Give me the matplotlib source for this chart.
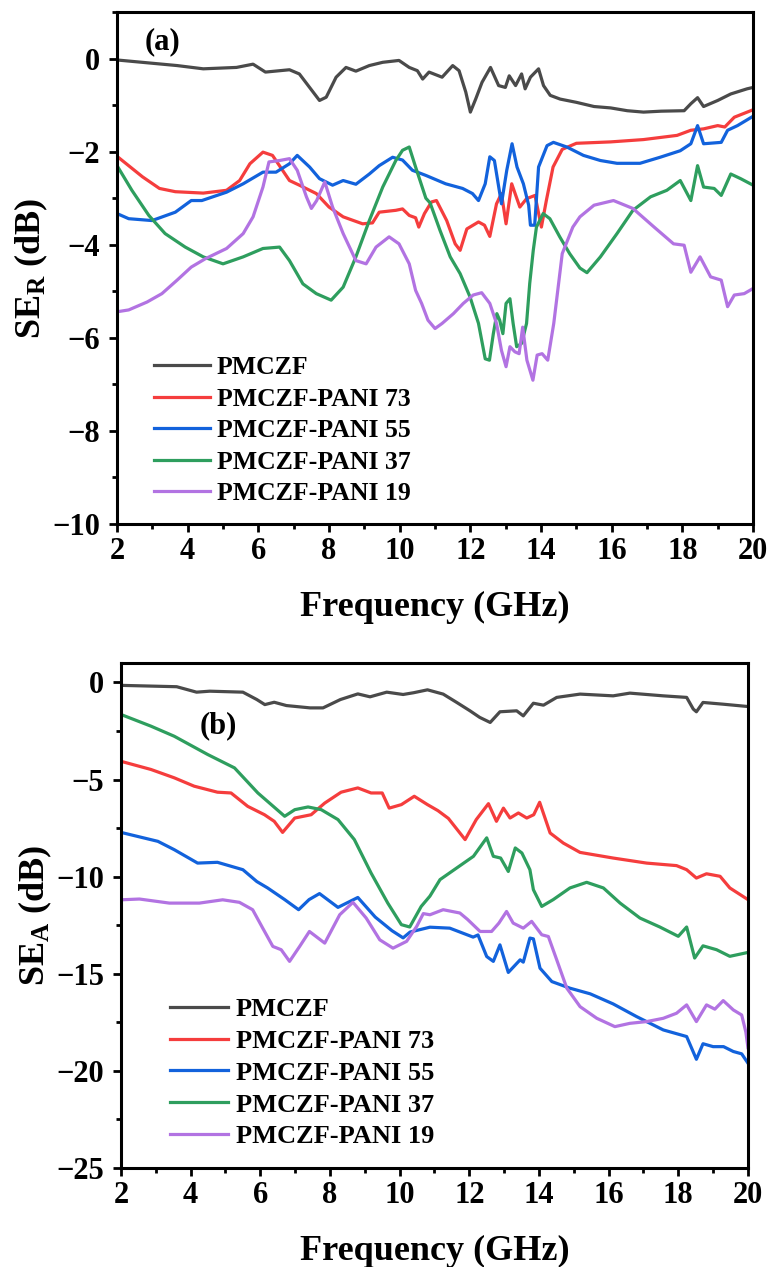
import numpy as np
import matplotlib
matplotlib.use("Agg")
import matplotlib.pyplot as plt
from matplotlib.ticker import MultipleLocator

plt.rcParams['font.family'] = ['Liberation Serif', 'DejaVu Serif']
plt.rcParams['font.weight'] = 'bold'
plt.rcParams['mathtext.fontset'] = 'custom'
plt.rcParams['mathtext.rm'] = 'Liberation Serif:bold'
plt.rcParams['mathtext.it'] = 'Liberation Serif:bold'
plt.rcParams['mathtext.bf'] = 'Liberation Serif:bold'

labels = ["PMCZF", "PMCZF-PANI 73", "PMCZF-PANI 55", "PMCZF-PANI 37", "PMCZF-PANI 19"]
colors = ["#4a4a4a", "#f53d3d", "#1262dc", "#2e9e5e", "#b273e2"]

# (a) SE_R, dB  -- (frequency GHz, value) pairs
ser_pmczf = [(2.0, -0.03), (3.7, -0.15), (4.44, -0.22), (5.38, -0.19), (5.85, -0.12), (6.2, -0.29),
             (6.88, -0.24), (7.16, -0.33), (7.45, -0.62), (7.73, -0.9), (7.92, -0.83), (8.2, -0.40),
             (8.48, -0.19), (8.76, -0.27), (9.14, -0.15), (9.52, -0.08), (9.98, -0.04), (10.27, -0.19),
             (10.5, -0.26), (10.65, -0.44), (10.83, -0.29), (11.2, -0.40), (11.5, -0.15), (11.68, -0.26),
             (11.87, -0.72), (12.0, -1.15), (12.15, -0.87), (12.33, -0.51), (12.57, -0.19), (12.8, -0.58),
             (12.99, -0.62), (13.1, -0.37), (13.28, -0.58), (13.45, -0.33), (13.55, -0.65), (13.7, -0.40),
             (13.93, -0.22), (14.07, -0.58), (14.26, -0.79), (14.54, -0.87), (15.0, -0.94), (15.5, -1.03),
             (15.97, -1.06), (16.44, -1.12), (16.9, -1.15), (17.4, -1.13), (18.05, -1.12), (18.24, -0.97),
             (18.43, -0.84), (18.6, -1.03), (19.0, -0.9), (19.37, -0.76), (19.83, -0.65), (20.0, -0.62)]
ser_73 = [(2.0, -2.10), (2.72, -2.54), (3.2, -2.79), (3.65, -2.86), (4.44, -2.89), (5.1, -2.83), (5.47, -2.62),
          (5.76, -2.26), (6.13, -2.01), (6.4, -2.08), (6.88, -2.62), (7.16, -2.72), (7.64, -2.90), (8.0, -3.19),
          (8.4, -3.40), (8.95, -3.55), (9.23, -3.53), (9.42, -3.30), (9.89, -3.26), (10.08, -3.23), (10.27, -3.37),
          (10.45, -3.42), (10.54, -3.62), (10.7, -3.33), (10.9, -3.08), (11.04, -3.05), (11.33, -3.48),
          (11.57, -3.98), (11.71, -4.12), (11.9, -3.66), (12.23, -3.51), (12.4, -3.58), (12.55, -3.82),
          (12.74, -3.12), (12.88, -2.90), (13.01, -3.55), (13.17, -2.69), (13.4, -3.19), (13.59, -3.01),
          (13.83, -2.94), (14.01, -3.62), (14.15, -3.05), (14.34, -2.33), (14.6, -1.95), (15.0, -1.82),
          (15.97, -1.79), (16.9, -1.74), (17.85, -1.65), (18.24, -1.54), (18.6, -1.51), (19.0, -1.44),
          (19.2, -1.47), (19.47, -1.26), (20.0, -1.10)]
ser_55 = [(2.0, -3.33), (2.33, -3.44), (2.99, -3.48), (3.65, -3.30), (4.1, -3.05), (4.4, -3.05), (5.1, -2.87),
          (5.57, -2.69), (6.13, -2.44), (6.5, -2.44), (6.88, -2.26), (7.1, -2.08), (7.45, -2.33), (7.73, -2.58),
          (8.1, -2.72), (8.4, -2.62), (8.76, -2.70), (9.14, -2.48), (9.42, -2.30), (9.8, -2.12), (10.08, -2.18),
          (10.36, -2.40), (10.74, -2.51), (11.3, -2.69), (11.78, -2.79), (12.06, -2.90), (12.23, -3.05),
          (12.42, -2.69), (12.55, -2.11), (12.68, -2.19), (12.88, -3.12), (13.03, -2.40), (13.18, -1.83),
          (13.32, -2.33), (13.5, -2.69), (13.65, -3.15), (13.7, -3.58), (13.82, -3.58), (13.93, -2.33),
          (14.17, -1.87), (14.35, -1.80), (14.73, -1.90), (15.2, -2.08), (15.68, -2.19), (16.15, -2.25),
          (16.8, -2.25), (17.37, -2.12), (17.94, -1.98), (18.24, -1.83), (18.43, -1.44), (18.6, -1.83),
          (19.1, -1.80), (19.28, -1.54), (19.56, -1.44), (20.0, -1.24)]
ser_37 = [(2.0, -2.30), (2.42, -2.83), (2.9, -3.37), (3.36, -3.76), (3.93, -4.05), (4.44, -4.26), (5.0, -4.41),
          (5.57, -4.26), (6.13, -4.08), (6.6, -4.05), (6.88, -4.34), (7.26, -4.84), (7.64, -5.05), (8.06, -5.19),
          (8.4, -4.91), (8.76, -4.26), (9.14, -3.48), (9.52, -2.76), (9.89, -2.19), (10.08, -1.97), (10.27, -1.90),
          (10.45, -2.33), (10.74, -3.0), (10.86, -3.1), (11.14, -3.69), (11.43, -4.26), (11.71, -4.62),
          (11.99, -5.12), (12.23, -5.69), (12.42, -6.45), (12.54, -6.48), (12.65, -5.91), (12.75, -5.48),
          (12.83, -5.62), (12.92, -5.91), (13.01, -5.26), (13.12, -5.16), (13.21, -5.69), (13.31, -6.19),
          (13.45, -6.12), (13.59, -5.69), (13.68, -4.83), (13.78, -4.12), (13.87, -3.62), (14.06, -3.33),
          (14.25, -3.44), (14.53, -3.83), (14.81, -4.19), (15.1, -4.5), (15.3, -4.6), (15.68, -4.26),
          (16.15, -3.76), (16.6, -3.26), (17.1, -2.97), (17.56, -2.83), (17.94, -2.62), (18.24, -3.05),
          (18.43, -2.30), (18.6, -2.76), (18.9, -2.79), (19.1, -2.94), (19.37, -2.48), (19.65, -2.58),
          (20.0, -2.72)]
ser_19 = [(2.0, -5.44), (2.33, -5.40), (2.85, -5.23), (3.27, -5.05), (3.7, -4.76), (4.1, -4.48), (4.5, -4.30),
          (5.1, -4.08), (5.57, -3.76), (5.85, -3.40), (6.13, -2.76), (6.3, -2.22), (6.6, -2.19), (6.88, -2.15),
          (7.1, -2.40), (7.36, -2.97), (7.5, -3.22), (7.65, -3.05), (7.88, -2.65), (8.1, -3.19), (8.4, -3.76),
          (8.76, -4.34), (9.05, -4.41), (9.33, -4.05), (9.7, -3.83), (9.98, -3.98), (10.27, -4.41),
          (10.45, -4.98), (10.62, -5.26), (10.8, -5.62), (11.0, -5.80), (11.2, -5.69), (11.52, -5.48),
          (11.8, -5.26), (12.08, -5.08), (12.32, -5.03), (12.55, -5.26), (12.74, -5.69), (12.88, -6.27),
          (13.01, -6.62), (13.12, -6.19), (13.26, -6.30), (13.38, -6.34), (13.48, -5.77), (13.6, -6.48),
          (13.77, -6.91), (13.89, -6.37), (14.03, -6.34), (14.19, -6.48), (14.36, -5.69), (14.6, -4.19),
          (14.9, -3.62), (15.1, -3.40), (15.5, -3.15), (16.05, -3.05), (16.6, -3.22), (17.2, -3.62),
          (17.75, -3.98), (18.05, -4.01), (18.24, -4.59), (18.5, -4.26), (18.8, -4.69), (19.1, -4.76),
          (19.28, -5.33), (19.47, -5.08), (19.75, -5.05), (20.0, -4.94)]

# (b) SE_A, dB
sea_pmczf = [(2.0, -0.15), (3.6, -0.22), (4.17, -0.50), (4.55, -0.45), (5.5, -0.50), (5.9, -0.88), (6.13, -1.14),
             (6.4, -1.02), (6.75, -1.19), (7.43, -1.31), (7.8, -1.31), (8.3, -0.88), (8.8, -0.59), (9.15, -0.74),
             (9.63, -0.50), (10.1, -0.62), (10.4, -0.53), (10.8, -0.38), (11.25, -0.60), (11.64, -1.03),
             (12.02, -1.46), (12.3, -1.80), (12.6, -2.06), (12.88, -1.51), (13.36, -1.46), (13.55, -1.72),
             (13.84, -1.07), (14.13, -1.17), (14.51, -0.77), (15.18, -0.60), (16.13, -0.69), (16.61, -0.55),
             (17.57, -0.69), (18.24, -0.77), (18.43, -1.37), (18.52, -1.51), (18.71, -1.03), (19.29, -1.12),
             (20.0, -1.24)]
sea_73 = [(2.0, -4.06), (2.86, -4.48), (3.53, -4.91), (4.1, -5.34), (4.77, -5.65), (5.16, -5.69), (5.64, -6.38),
          (6.12, -6.81), (6.4, -7.15), (6.64, -7.72), (6.99, -6.98), (7.46, -6.81), (7.85, -6.21), (8.32, -5.65),
          (8.8, -5.43), (9.18, -5.69), (9.5, -5.69), (9.7, -6.47), (10.05, -6.29), (10.42, -5.86), (10.8, -6.29),
          (11.1, -6.6), (11.4, -7.0), (11.88, -8.09), (12.2, -7.06), (12.55, -6.24), (12.78, -7.15),
          (12.98, -6.47), (13.17, -6.98), (13.41, -6.72), (13.65, -6.98), (13.85, -6.81), (14.02, -6.17),
          (14.32, -7.75), (14.7, -8.27), (15.18, -8.75), (16.13, -9.04), (17.09, -9.30), (17.95, -9.43),
          (18.24, -9.64), (18.52, -10.07), (18.81, -9.85), (19.2, -9.98), (19.48, -10.58), (20.0, -11.18)]
sea_55 = [(2.0, -7.72), (3.06, -8.18), (3.53, -8.61), (4.2, -9.30), (4.77, -9.26), (5.5, -9.64), (5.9, -10.25),
          (6.21, -10.58), (6.7, -11.18), (7.1, -11.70), (7.4, -11.18), (7.7, -10.87), (8.23, -11.58),
          (8.8, -11.07), (9.3, -12.08), (9.78, -12.78), (10.1, -13.15), (10.3, -12.85), (10.87, -12.6),
          (11.44, -12.65), (12.11, -13.11), (12.25, -13.0), (12.5, -14.11), (12.69, -14.36), (12.88, -13.51),
          (13.12, -14.93), (13.46, -14.28), (13.55, -14.4), (13.74, -13.16), (13.84, -13.2), (14.03, -14.71),
          (14.37, -15.40), (14.89, -15.74), (15.47, -16.03), (16.13, -16.55), (16.8, -17.20), (17.57, -17.89),
          (18.24, -18.23), (18.52, -19.40), (18.71, -18.60), (19.0, -18.75), (19.3, -18.75), (19.58, -19.0),
          (19.82, -19.12), (20.0, -19.6)]
sea_37 = [(2.0, -1.65), (2.86, -2.25), (3.53, -2.77), (4.49, -3.71), (5.26, -4.40), (5.93, -5.69), (6.7, -6.89),
          (6.99, -6.55), (7.37, -6.41), (7.75, -6.55), (8.23, -7.06), (8.7, -8.09), (9.18, -9.81), (9.66, -11.36),
          (10.05, -12.47), (10.29, -12.59), (10.62, -11.53), (10.87, -11.0), (11.16, -10.15), (11.64, -9.55),
          (12.12, -8.95), (12.5, -8.0), (12.69, -8.95), (12.9, -9.04), (13.12, -9.73), (13.32, -8.52),
          (13.51, -8.78), (13.74, -9.64), (13.84, -10.67), (14.08, -11.53), (14.41, -11.18), (14.89, -10.58),
          (15.37, -10.29), (15.85, -10.58), (16.33, -11.36), (16.9, -12.13), (17.47, -12.59), (18.0, -13.07),
          (18.24, -12.59), (18.47, -14.19), (18.71, -13.56), (19.1, -13.76), (19.48, -14.1), (20.0, -13.9)]
sea_19 = [(2.0, -11.19), (2.53, -11.15), (3.39, -11.36), (4.25, -11.36), (4.92, -11.19), (5.4, -11.32),
          (5.78, -11.70), (6.07, -12.65), (6.36, -13.59), (6.6, -13.76), (6.84, -14.36), (7.13, -13.59),
          (7.41, -12.82), (7.85, -13.42), (8.28, -11.96), (8.66, -11.32), (9.04, -12.13), (9.43, -13.25),
          (9.81, -13.68), (10.2, -13.33), (10.49, -12.56), (10.68, -11.9), (10.87, -11.96), (11.25, -11.70),
          (11.73, -11.87), (11.95, -12.2), (12.31, -12.82), (12.64, -12.82), (12.85, -12.39), (13.07, -11.79),
          (13.26, -12.39), (13.55, -12.65), (13.79, -12.30), (14.08, -12.99), (14.27, -13.08), (14.51, -14.28),
          (14.8, -15.74), (15.18, -16.69), (15.66, -17.29), (16.18, -17.72), (16.61, -17.55), (17.09, -17.46),
          (17.57, -17.29), (17.95, -17.03), (18.24, -16.60), (18.52, -17.46), (18.81, -16.60), (19.05, -16.82),
          (19.29, -16.38), (19.58, -16.86), (19.82, -17.12), (19.94, -18.0), (20.0, -18.8)]

x_ticks = np.arange(2, 21, 2)


def style_axes(ax, ylim, ymajor, yminor):
    ax.set_xlim(2, 20)
    ax.set_ylim(*ylim)
    ax.set_xticks(x_ticks)
    ax.xaxis.set_minor_locator(MultipleLocator(1))
    ax.yaxis.set_major_locator(MultipleLocator(ymajor))
    ax.yaxis.set_minor_locator(MultipleLocator(yminor))
    ax.tick_params(which='both', direction='out', width=2, labelsize=22, top=False, right=False)
    ax.tick_params(which='major', length=6)
    ax.tick_params(which='minor', length=3.5)
    ax.tick_params(axis='x', which='major', pad=3)
    ax.tick_params(axis='y', which='major', pad=6)
    for s in ax.spines.values():
        s.set_linewidth(2.2)
    ax.set_xlabel("Frequency (GHz)", fontsize=26, fontweight='bold', labelpad=18)


fig = plt.figure(figsize=(7.71, 12.67), dpi=100)

ax1 = fig.add_axes([0.1518, 0.5864, 0.8249, 0.4041])
for data, lab, c in zip([ser_pmczf, ser_73, ser_55, ser_37, ser_19], labels, colors):
    d = np.array(data)
    ax1.plot(d[:, 0], d[:, 1], color=c, lw=2.3, label=lab)
style_axes(ax1, (-10, 1), 2, 1)
ax1.set_ylabel(r"SE$_\mathrm{R}$ (dB)", fontsize=26, fontweight='bold', labelpad=2)
ax1.text(0.071, 0.943, "(a)", transform=ax1.transAxes, fontsize=22, fontweight='bold',
         ha='center', va='center')
ax1.legend(loc='upper left', bbox_to_anchor=(0.058, 0.328), frameon=False, fontsize=18.5,
           handlelength=2.2, handletextpad=0.25, labelspacing=0.33, borderaxespad=0, borderpad=0)

ax2 = fig.add_axes([0.1569, 0.0781, 0.8132, 0.3986])
for data, lab, c in zip([sea_pmczf, sea_73, sea_55, sea_37, sea_19], labels, colors):
    d = np.array(data)
    ax2.plot(d[:, 0], d[:, 1], color=c, lw=2.3, label=lab)
style_axes(ax2, (-25, 1), 5, 2.5)
ax2.set_ylabel(r"SE$_\mathrm{A}$ (dB)", fontsize=26, fontweight='bold', labelpad=2)
ax2.text(0.155, 0.875, "(b)", transform=ax2.transAxes, fontsize=22, fontweight='bold',
         ha='center', va='center')
ax2.legend(loc='upper left', bbox_to_anchor=(0.078, 0.338), frameon=False, fontsize=19,
           handlelength=2.2, handletextpad=0.3, labelspacing=0.32, borderaxespad=0, borderpad=0)

fig.savefig("out.png", dpi=100)
